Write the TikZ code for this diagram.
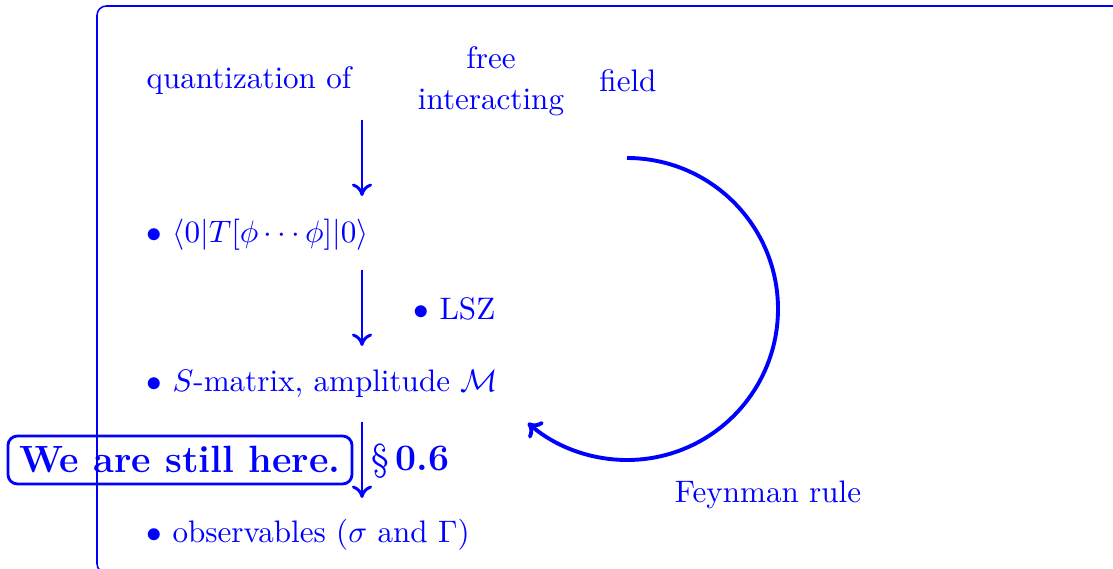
\documentclass[tikz,border=0pt]{standalone}
\usetikzlibrary{arrows.meta}
\definecolor{fg}{RGB}{0,0,255}
\begin{document}
\begin{tikzpicture}[x=0.3215pt,y=-0.3215pt,
  txt/.style={inner sep=0pt,text=fg},
  down/.style={draw=fg,line width=0.95pt,-{To[length=4pt,width=6.5pt]}},
  loop/.style={draw=fg,line width=1.25pt,-{To[length=4pt,width=7pt]}},
  herebox/.style={draw=fg,line width=0.9pt,rounded corners=3pt,text=fg,
    font=\fontsize{12.2}{14}\selectfont\bfseries,
    minimum width=110.6pt,minimum height=15.4pt,inner sep=0pt}]
\clip (0,0) rectangle (1113,569);
\useasboundingbox (0,0) rectangle (1113,569);
% frame
\draw[fg,line width=0.5pt,rounded corners=3pt] (97,6) rectangle (1130,573);
% texts
\node[txt,anchor=base west] (quant) at (146,89) {quantization of};
\node[txt,align=center] (fi) at (491,81) {free\\[1.2pt]interacting};
\node[txt,anchor=base] (field) at (628,92) {field};
\node[txt,anchor=base west] (vev) at (146,243) {$\bullet$ $\langle 0|T[\phi\cdots\phi]|0\rangle$};
\node[txt,anchor=base west] (lsz) at (413,320) {$\bullet$ LSZ};
\node[txt,anchor=base west] (smat) at (146,392) {$\bullet$ $S$-matrix, amplitude $\mathcal{M}$};
\node[txt,anchor=base west] (obs) at (146,543) {$\bullet$ observables ($\sigma$ and $\Gamma$)};
\node[txt,anchor=base] (feyn) at (768,503) {Feynman rule};
\node[herebox] (here) at (180,460) {We are still here.};
\node[txt,anchor=base west,font=\large] (sec) at (371,471) {\S\,\textbf{0.6}};
% vertical arrows
\coordinate (a1s) at (362,120); \coordinate (a1e) at (362,196);
\coordinate (a2s) at (362,270); \coordinate (a2e) at (362,346);
\coordinate (a3s) at (362,422); \coordinate (a3e) at (362,498);
\draw[down] (a1s) -- (a1e);
\draw[down] (a2s) -- (a2e);
\draw[down] (a3s) -- (a3e);
% Feynman loop
\coordinate (arcS) at (627,158);
\draw[loop] (arcS) arc[start angle=-90,end angle=131,radius=151];
\end{tikzpicture}
\end{document}
